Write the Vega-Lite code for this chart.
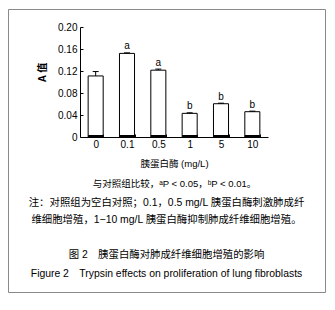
{
  "$schema": "https://vega.github.io/schema/vega-lite/v6.json",
  "width": 317,
  "height": 283,
  "autosize": {"type": "none"},
  "padding": {"left": 8, "top": 9, "right": 10, "bottom": 18},
  "background": "white",
  "config": {
    "view": {"stroke": "#8a8a8a", "strokeWidth": 1},
    "font": "Liberation Sans, Noto Sans CJK SC, sans-serif"
  },
  "title": {
    "text": ["注：对照组为空白对照；0.1，0.5 mg/L 胰蛋白酶刺激肺成纤", "维细胞增殖，1−10 mg/L 胰蛋白酶抑制肺成纤维细胞增殖。"],
    "subtitle": ["图 2　胰蛋白酶对肺成纤维细胞增殖的影响", "Figure 2　Trypsin effects on proliferation of lung fibroblasts"],
    "orient": "bottom",
    "anchor": "middle",
    "frame": "group",
    "offset": -94,
    "fontSize": 10.4,
    "fontWeight": "normal",
    "lineHeight": 17,
    "color": "#000",
    "subtitleFontSize": 10.4,
    "subtitleColor": "#000",
    "subtitleLineHeight": 19,
    "subtitlePadding": 25
  },
  "data": {
    "values": [
      {"dose": "0", "value": 0.111, "upper": 0.119, "sig": ""},
      {"dose": "0.1", "value": 0.152, "upper": 0.153, "sig": "a"},
      {"dose": "0.5", "value": 0.1215, "upper": 0.1235, "sig": "a"},
      {"dose": "1", "value": 0.043, "upper": 0.044, "sig": "b"},
      {"dose": "5", "value": 0.0605, "upper": 0.0615, "sig": "b"},
      {"dose": "10", "value": 0.046, "upper": 0.047, "sig": "b"}
    ]
  },
  "encoding": {
    "x": {
      "field": "dose",
      "type": "ordinal",
      "sort": null,
      "scale": {"range": [72, 260], "paddingInner": 0.52, "paddingOuter": 0.26},
      "axis": {
        "title": ["胰蛋白酶 (mg/L)", "与对照组比较，ᵃP < 0.05，ᵇP < 0.01。"],
        "offset": -155,
        "labelAngle": 0,
        "labelFontSize": 10,
        "labelPadding": 5,
        "labelColor": "#000",
        "tickBand": "extent",
        "tickSize": -3,
        "tickColor": "#000",
        "domainColor": "#000",
        "titleFontSize": 9.5,
        "titleFontWeight": "normal",
        "titleLineHeight": 20,
        "titleY": 21,
        "titleColor": "#000"
      }
    }
  },
  "layer": [
    {
      "mark": {"type": "bar", "fill": "white", "stroke": "#000", "strokeWidth": 1},
      "encoding": {
        "y": {
          "field": "value",
          "type": "quantitative",
          "title": "A 值",
          "scale": {"domain": [0, 0.2], "range": [128, 18]},
          "axis": {
            "values": [0, 0.04, 0.08, 0.12, 0.16, 0.2],
            "labelExpr": "datum.value == 0 ? '0' : format(datum.value, '.2f')",
            "offset": -72,
            "grid": false,
            "tickSize": -3,
            "tickColor": "#000",
            "domainColor": "#000",
            "labelPadding": 6,
            "labelFontSize": 10,
            "labelColor": "#000",
            "titleFontSize": 10,
            "titleFontWeight": "bold",
            "titleColor": "#000",
            "titleX": -33,
            "titleY": 63
          }
        }
      }
    },
    {
      "mark": {"type": "tick", "color": "#000", "thickness": 2, "size": 15, "opacity": 1, "yOffset": -1},
      "encoding": {"y": {"datum": 0, "type": "quantitative", "title": "A 值"}}
    },
    {
      "mark": {"type": "rule", "color": "#000", "strokeWidth": 1},
      "encoding": {
        "y": {"field": "value", "type": "quantitative", "title": "A 值"},
        "y2": {"field": "upper"}
      }
    },
    {
      "mark": {"type": "tick", "color": "#000", "thickness": 1, "size": 6, "opacity": 1},
      "encoding": {"y": {"field": "upper", "type": "quantitative", "title": "A 值"}}
    },
    {
      "mark": {"type": "text", "color": "#000", "fontSize": 10, "baseline": "alphabetic", "dy": -3.5},
      "encoding": {
        "y": {"field": "upper", "type": "quantitative", "title": "A 值"},
        "text": {"field": "sig"}
      }
    }
  ]
}
